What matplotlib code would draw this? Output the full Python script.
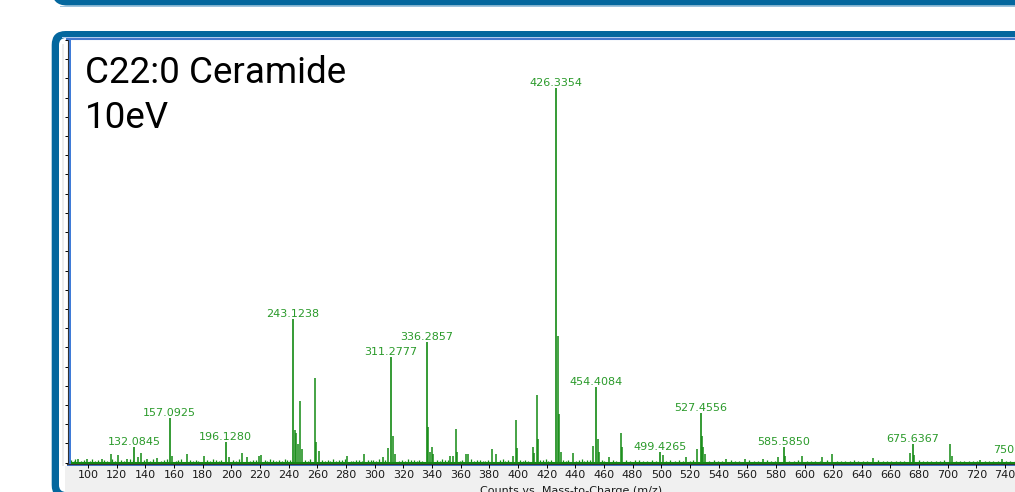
import matplotlib
matplotlib.use("Agg")
import matplotlib.pyplot as plt
from matplotlib.patches import FancyBboxPatch, Rectangle

plt.rcParams['font.family'] = ['DejaVu Sans']

W, H = 1015, 492

# labelled peaks: m/z and intensity (x10^3 counts)
label_mz = [132.0845, 157.0925, 196.1280, 243.1238, 311.2777, 336.2857,
            426.3354, 454.4084, 499.4265, 527.4556, 585.5850, 675.6367, 750.0619]
label_int = [0.81, 2.32, 1.07, 7.47, 5.49, 6.29,
             19.49, 3.93, 0.55, 2.58, 0.81, 0.96, 0.36]

# unlabelled fragment and isotope peaks
peak_mz = [93.2, 99.0, 109.5, 115.8, 121.0, 127.0, 135.1, 137.0, 141.0, 148.0,
           158.8, 168.9, 181.2, 198.4, 207.3, 210.7, 219.5, 220.9,
           244.5, 245.4, 246.5, 247.9, 249.1, 258.4, 259.3, 261.2, 281.0, 292.8,
           305.6, 309.6, 313.1, 314.2, 337.1, 338.7, 339.8, 341.0, 352.6, 354.5,
           356.8, 357.7, 363.8, 365.0, 381.7, 384.5, 396.3, 398.7, 399.6,
           410.3, 411.2, 413.1, 413.8, 427.8, 428.9, 429.9, 438.2,
           452.6, 455.9, 456.8, 463.8, 471.7, 472.6, 501.0, 517.3,
           525.2, 528.5, 529.4, 530.6, 545.2, 558.5, 570.8, 581.7, 586.4,
           598.0, 612.0, 619.2, 648.0, 673.6, 676.4, 701.5, 702.7, 722.5, 737.6]
peak_int = [0.21, 0.16, 0.16, 0.43, 0.38, 0.16, 0.30, 0.52, 0.16, 0.26,
            0.36, 0.47, 0.33, 0.30, 0.52, 0.30, 0.35, 0.38,
            1.67, 1.56, 0.99, 3.18, 0.73, 4.41, 1.08, 0.61, 0.33, 0.43,
            0.30, 0.77, 1.37, 0.47, 1.86, 0.56, 0.82, 0.47, 0.33, 0.33,
            1.76, 0.56, 0.43, 0.42, 0.68, 0.47, 0.33, 2.20, 0.77,
            0.82, 0.51, 3.51, 1.25, 6.61, 2.55, 0.56, 0.51,
            0.87, 1.25, 0.56, 0.30, 1.55, 0.82, 0.38, 0.30,
            0.73, 1.37, 0.82, 0.47, 0.16, 0.16, 0.16, 0.30, 0.33,
            0.33, 0.30, 0.47, 0.24, 0.52, 0.38, 0.95, 0.33, 0.12, 0.16]

# low level chemical noise along the baseline
noise_mz = [88.1, 90.0, 91.1, 95.0, 97.1, 101.1, 103.0, 105.1, 107.1, 111.1,
            113.0, 117.1, 119.1, 123.1, 125.0, 129.1, 131.1, 139.1, 143.1, 145.1,
            151.1, 153.1, 155.1, 161.1, 163.1, 165.1, 171.1, 173.1, 175.1, 177.1,
            183.1, 185.1, 187.1, 189.1, 191.1, 193.1, 201.1, 203.1, 205.1, 213.2,
            215.1, 217.2, 223.2, 225.2, 227.2, 229.2, 231.2, 233.2, 235.2, 237.2,
            239.2, 241.2, 251.2, 253.2, 255.2, 263.2, 265.2, 267.2, 269.2, 271.2,
            273.2, 275.2, 277.2, 279.2, 283.2, 285.2, 287.2, 289.2, 291.2, 295.2,
            297.2, 299.2, 301.2, 303.2, 307.3, 317.3, 319.3, 321.3, 323.3, 325.3,
            327.3, 329.3, 331.3, 333.3, 343.3, 345.3, 347.3, 349.3, 351.3, 359.3,
            361.3, 367.3, 369.3, 371.3, 373.3, 375.3, 377.3, 379.3, 387.3, 389.3,
            391.3, 393.3, 401.3, 403.3, 405.3, 407.3, 415.3, 417.3, 419.3, 421.3,
            423.3, 431.3, 433.3, 435.3, 440.3, 442.3, 444.4, 446.4, 448.4, 450.4,
            458.4, 460.4, 466.4, 468.4, 475.4, 478.4, 481.4, 484.4, 487.4, 490.4,
            493.4, 496.4, 503.4, 506.4, 509.4, 512.4, 515.4, 520.4, 522.4, 533.5,
            536.5, 539.5, 542.5, 548.5, 551.5, 554.5, 561.5, 564.5, 567.5, 573.5,
            576.5, 579.5, 589.5, 592.5, 595.5, 601.5, 604.5, 607.5, 610.5, 615.6,
            622.6, 625.6, 628.6, 631.6, 634.6, 637.6, 640.6, 643.6, 651.6, 654.6,
            657.6, 660.6, 663.6, 666.6, 669.6, 679.6, 682.6, 685.6, 688.6, 691.6,
            694.6, 697.6, 705.6, 708.6, 711.6, 714.7, 717.7, 720.7, 725.7, 728.7,
            731.7, 734.7, 740.7, 743.7, 746.7]
noise_int = [0.12, 0.08, 0.18, 0.10, 0.14, 0.09, 0.16, 0.07, 0.12, 0.15,
             0.10, 0.20, 0.09, 0.13, 0.08, 0.17, 0.11, 0.14, 0.09, 0.18,
             0.10, 0.13, 0.16, 0.09, 0.12, 0.20, 0.11, 0.08, 0.15, 0.10,
             0.13, 0.09, 0.17, 0.11, 0.08, 0.14, 0.12, 0.10, 0.18, 0.09,
             0.15, 0.11, 0.13, 0.08, 0.16, 0.12, 0.09, 0.14, 0.10, 0.19,
             0.11, 0.15, 0.13, 0.09, 0.17, 0.12, 0.08, 0.14, 0.10, 0.16,
             0.09, 0.13, 0.11, 0.18, 0.10, 0.08, 0.14, 0.12, 0.09, 0.15,
             0.11, 0.13, 0.08, 0.16, 0.12, 0.10, 0.14, 0.09, 0.17, 0.11,
             0.13, 0.08, 0.15, 0.10, 0.12, 0.09, 0.16, 0.11, 0.14, 0.10,
             0.13, 0.18, 0.09, 0.12, 0.15, 0.10, 0.08, 0.14, 0.11, 0.17,
             0.09, 0.13, 0.12, 0.10, 0.15, 0.08, 0.14, 0.11, 0.16, 0.09,
             0.12, 0.13, 0.10, 0.15, 0.09, 0.12, 0.17, 0.10, 0.14, 0.11,
             0.13, 0.09, 0.15, 0.10, 0.12, 0.08, 0.11, 0.14, 0.09, 0.10,
             0.12, 0.08, 0.10, 0.13, 0.09, 0.11, 0.07, 0.10, 0.12, 0.09,
             0.11, 0.08, 0.10, 0.12, 0.07, 0.09, 0.11, 0.08, 0.10, 0.12,
             0.09, 0.07, 0.10, 0.08, 0.11, 0.09, 0.07, 0.10, 0.08, 0.12,
             0.09, 0.07, 0.10, 0.08, 0.11, 0.09, 0.07, 0.10, 0.13, 0.08,
             0.09, 0.07, 0.10, 0.08, 0.09, 0.11, 0.08, 0.07, 0.10, 0.09,
             0.08, 0.11, 0.09, 0.07, 0.10, 0.08, 0.09, 0.07, 0.10, 0.08,
             0.07, 0.09, 0.08, 0.07, 0.06]

frame_blue = '#04679e'
chart_blue = '#4678cc'
peak_green = '#138a13'
label_green = '#2a9a2a'

fig = plt.figure(figsize=(W / 100, H / 100), dpi=100)

# slide decoration, laid out in pixel units behind the spectrum
bg = fig.add_axes([0, 0, 1, 1], zorder=0)
bg.set_xlim(0, W)
bg.set_ylim(H, 0)
bg.axis('off')

# bottom edge of the panel above
bg.add_patch(FancyBboxPatch((52, -100), 1300, 105.5,
                            boxstyle="round,pad=0,rounding_size=15",
                            fc=frame_blue, ec='none'))
bg.add_patch(Rectangle((60, 5.5), 1300, 1, fc='#9cc3de', ec='none'))

# panel holding the spectrum
bg.add_patch(FancyBboxPatch((51.7, 31), 1300, 468,
                            boxstyle="round,pad=0,rounding_size=14",
                            fc=frame_blue, ec='none'))
bg.add_patch(FancyBboxPatch((59, 38), 1300, 454,
                            boxstyle="round,pad=0,rounding_size=7",
                            fc='white', ec='none'))
bg.add_patch(Rectangle((62, 44), 2.5, 422, fc='#ececec', ec='none'))
bg.add_patch(Rectangle((65, 466), 1300, 30, fc='#f0f0f0', ec='none'))
bg.add_patch(Rectangle((62, 36.8), 1300, 1, fc='#b5cdee', ec='none'))
bg.add_patch(Rectangle((67, 464.2), 1300, 1.8, fc=chart_blue, ec='none'))

bg.text(85, 82.7, "C22:0 Ceramide", fontsize=26.5, va='baseline',
        family='Roboto', color='black')
bg.text(85, 128.3, "10eV", fontsize=26.5, va='baseline',
        family='Roboto', color='black')
bg.text(571, 485.5, "Counts vs. Mass-to-Charge (m/z)", ha='center', va='top',
        fontsize=8, color='#1a1a1a')

# spectrum axes (runs past the right edge of the figure)
ax = fig.add_axes([67.5 / W, (H - 463.5) / H, (1100 - 67.5) / W, 424 / H], zorder=1)
ax.set_facecolor('none')
ax.set_xlim(85.7, 806.2)
ax.set_ylim(-0.05, 22.03)

ax.axhline(0, color=peak_green, lw=1.5, zorder=2)
ax.vlines(noise_mz, 0, noise_int, color=peak_green, lw=0.9, zorder=2)
ax.vlines(peak_mz, 0, peak_int, color=peak_green, lw=1.1, zorder=3)
ax.vlines(label_mz, 0, label_int, color=peak_green, lw=1.2, zorder=3)

for mz, h in zip(label_mz, label_int):
    ax.annotate(f"{mz:.4f}", (mz, h), xytext=(0, 1.6), textcoords='offset points',
                ha='center', va='baseline', fontsize=8, color=label_green,
                annotation_clip=False)

ax.set_xticks(range(100, 801, 20))
ax.set_yticks(range(0, 23))
ax.tick_params(axis='x', direction='out', length=2.8, width=0.7, pad=2.2,
               labelsize=8, labelcolor='#1a1a1a')
ax.tick_params(axis='y', direction='out', length=2.2, width=0.7, labelleft=False)

for side in ['bottom', 'left']:
    ax.spines[side].set_color('#333333')
    ax.spines[side].set_linewidth(0.8)
ax.spines['top'].set_color(chart_blue)
ax.spines['top'].set_linewidth(1.5)
ax.spines['right'].set_visible(False)

# blue inner edge of the chart window
ax.axvline(85.7 + 2 / 1.433, color='#3a78d6', lw=1.4, zorder=4)

fig.savefig('out.png', dpi=100)
